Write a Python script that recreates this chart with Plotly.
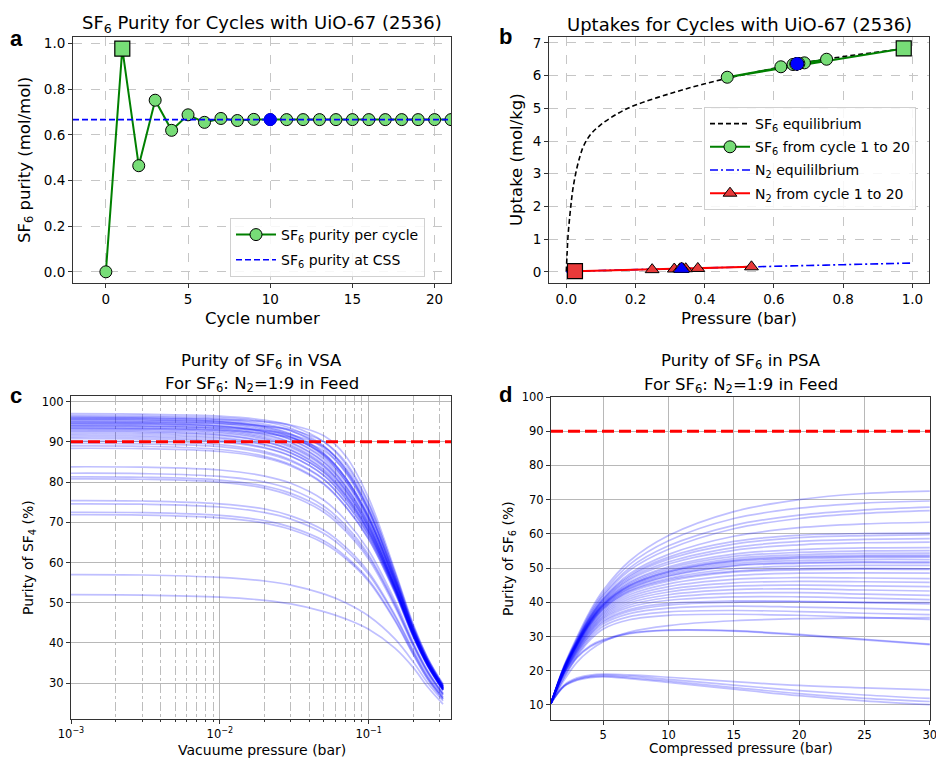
import plotly.graph_objects as go

W, H = 936, 758

# ---------------- Panel a data ----------------
cycles = list(range(22))
purity = [0.0, 0.978, 0.465, 0.752, 0.620, 0.688, 0.655, 0.672, 0.663, 0.668, 0.667,
          0.667, 0.667, 0.667, 0.667, 0.667, 0.667, 0.667, 0.667, 0.667, 0.667, 0.667]
first_cycle_index = 1
css_cycle = 10
css_purity = 0.667
a_xrange = [-2, 21]

# ---------------- Panel b data ----------------
sf6_eq_p = [0, 0.002, 0.005, 0.01, 0.015, 0.02, 0.03, 0.04, 0.05, 0.07, 0.1, 0.15, 0.2,
            0.3, 0.4, 0.5, 0.6, 0.7, 0.8, 0.9, 1.0]
sf6_eq_q = [0, 0.5, 1.1, 1.7, 2.2, 2.6, 3.15, 3.55, 3.85, 4.2, 4.5, 4.85, 5.1,
            5.45, 5.75, 6.0, 6.22, 6.42, 6.58, 6.72, 6.86]
n2_eq_p = [0, 0.1, 0.2, 0.3, 0.4, 0.5, 0.6, 0.7, 0.8, 0.9, 1.0]
n2_eq_q = [0, 0.04, 0.07, 0.095, 0.12, 0.145, 0.17, 0.195, 0.22, 0.245, 0.27]
sf6_cycle_p = [0.975, 0.465, 0.752, 0.620, 0.688, 0.655, 0.672, 0.663, 0.668, 0.667,
               0.667, 0.667, 0.667, 0.667, 0.667, 0.667, 0.667, 0.667, 0.667, 0.667]
sf6_cycle_q = [6.83, 5.95, 6.50, 6.27, 6.39, 6.34, 6.37, 6.355, 6.365, 6.36,
               6.36, 6.36, 6.36, 6.36, 6.36, 6.36, 6.36, 6.36, 6.36, 6.36]
n2_cycle_p = [0.025, 0.535, 0.248, 0.380, 0.312, 0.345, 0.328, 0.337, 0.332, 0.333,
              0.333, 0.333, 0.333, 0.333, 0.333, 0.333, 0.333, 0.333, 0.333, 0.333]
n2_cycle_q = [0.02, 0.155, 0.068, 0.105, 0.087, 0.096, 0.091, 0.093, 0.092, 0.092,
              0.092, 0.092, 0.092, 0.092, 0.092, 0.092, 0.092, 0.092, 0.092, 0.092]
css_sf6 = (0.667, 6.36)
css_n2 = (0.333, 0.092)

# ---------------- Panel c data (VSA) ----------------
vsa_p = [0.001, 0.003, 0.01, 0.02, 0.03, 0.05, 0.07, 0.1, 0.15, 0.2, 0.25, 0.316]
vsa_purity = [
    [97.0, 96.9, 96.4, 95.4, 94.0, 90.0, 84.5, 74.5, 57.5, 44.0, 36.0, 29.5],
    [96.6, 96.5, 96.0, 95.0, 93.4, 89.0, 83.0, 73.0, 56.5, 43.5, 35.5, 29.2],
    [96.3, 96.2, 95.6, 94.4, 92.8, 88.3, 82.3, 72.3, 56.0, 43.2, 35.3, 29.0],
    [96.0, 95.9, 95.2, 93.8, 92.0, 87.2, 81.0, 71.2, 55.3, 42.8, 35.0, 28.9],
    [95.7, 95.6, 95.0, 93.6, 91.8, 87.0, 81.0, 71.5, 55.8, 43.2, 35.4, 29.2],
    [95.4, 95.3, 94.7, 93.3, 91.4, 86.6, 80.5, 71.0, 55.5, 43.0, 35.2, 29.0],
    [95.1, 95.0, 94.4, 93.0, 91.2, 86.5, 80.3, 70.6, 55.0, 42.6, 34.9, 28.8],
    [94.8, 94.7, 94.0, 92.5, 90.5, 85.6, 79.3, 69.8, 54.6, 42.4, 34.8, 28.7],
    [94.5, 94.4, 93.8, 92.4, 90.6, 86.0, 80.0, 70.5, 55.2, 42.9, 35.1, 28.9],
    [94.2, 94.1, 93.4, 91.9, 89.9, 85.0, 78.8, 69.4, 54.3, 42.2, 34.6, 28.6],
    [93.9, 93.8, 93.1, 91.6, 89.7, 84.9, 78.9, 69.6, 54.6, 42.5, 34.9, 28.8],
    [93.6, 93.5, 92.8, 91.2, 89.2, 84.3, 78.2, 69.0, 54.1, 42.1, 34.6, 28.6],
    [93.3, 93.2, 92.5, 90.9, 88.9, 84.0, 78.0, 68.8, 54.0, 42.0, 34.5, 28.5],
    [93.0, 92.9, 92.2, 90.6, 88.6, 83.8, 77.8, 68.7, 54.0, 42.1, 34.6, 28.6],
    [92.7, 92.6, 91.8, 90.1, 87.9, 82.9, 76.8, 67.8, 53.4, 41.8, 34.4, 28.4],
    [92.4, 92.3, 91.6, 90.0, 88.0, 83.2, 77.3, 68.4, 53.9, 42.1, 34.6, 28.6],
    [92.0, 91.9, 91.1, 89.4, 87.3, 82.4, 76.4, 67.6, 53.4, 41.8, 34.4, 28.4],
    [91.6, 91.5, 90.8, 89.2, 87.2, 82.5, 76.7, 68.0, 53.8, 42.1, 34.6, 28.6],
    [91.2, 91.1, 90.3, 88.6, 86.5, 81.6, 75.7, 67.1, 53.1, 41.6, 34.3, 28.3],
    [90.8, 90.7, 90.0, 88.4, 86.4, 81.7, 76.0, 67.5, 53.6, 42.0, 34.6, 28.6],
    [90.2, 90.1, 89.3, 87.6, 85.5, 80.7, 74.9, 66.5, 52.9, 41.5, 34.2, 28.3],
    [89.6, 89.5, 88.8, 87.2, 85.2, 80.6, 75.0, 66.8, 53.2, 41.8, 34.4, 28.4],
    [89.0, 88.9, 88.1, 86.4, 84.3, 79.6, 73.9, 65.8, 52.5, 41.3, 34.1, 28.2],
    [88.4, 88.3, 87.6, 86.0, 84.0, 79.4, 73.9, 65.9, 52.7, 41.5, 34.2, 28.3],
    [96.0, 95.9, 95.6, 95.0, 94.2, 91.5, 86.5, 76.0, 58.0, 44.5, 36.2, 29.8],
    [95.0, 94.9, 94.6, 93.9, 93.0, 90.0, 85.0, 74.8, 57.3, 44.0, 35.9, 29.5],
    [94.0, 93.9, 93.5, 92.8, 91.8, 88.7, 83.6, 73.6, 56.7, 43.6, 35.6, 29.3],
    [93.4, 93.3, 92.9, 92.1, 91.0, 87.8, 82.6, 72.8, 56.2, 43.3, 35.4, 29.2],
    [95.6, 95.5, 95.0, 94.0, 92.7, 88.8, 83.2, 73.2, 56.4, 43.4, 35.5, 29.2],
    [94.6, 94.5, 93.9, 92.7, 91.1, 86.9, 81.1, 71.3, 55.3, 42.8, 35.0, 28.9],
    [83.8, 83.7, 83.0, 81.5, 79.7, 75.5, 70.5, 63.0, 50.5, 40.0, 33.0, 27.5],
    [82.2, 82.1, 81.4, 80.0, 78.2, 74.0, 69.2, 61.9, 49.8, 39.6, 32.8, 27.3],
    [81.3, 81.2, 80.5, 79.0, 77.2, 73.2, 68.5, 61.4, 49.5, 39.4, 32.6, 27.2],
    [80.8, 80.7, 80.0, 78.5, 76.6, 72.5, 67.8, 60.8, 49.0, 39.1, 32.4, 27.0],
    [75.4, 75.3, 74.6, 73.3, 71.6, 68.0, 63.8, 57.6, 47.0, 38.0, 31.6, 26.5],
    [74.6, 74.5, 73.8, 72.4, 70.8, 67.2, 63.1, 57.0, 46.6, 37.7, 31.4, 26.4],
    [72.5, 72.4, 71.7, 70.4, 68.8, 65.4, 61.5, 55.7, 45.8, 37.2, 31.0, 26.1],
    [71.9, 71.8, 71.1, 69.8, 68.2, 64.8, 61.0, 55.3, 45.5, 37.0, 30.9, 26.0],
    [57.0, 56.9, 56.3, 55.4, 54.4, 52.2, 50.0, 46.7, 41.0, 35.2, 30.0, 25.6],
    [52.0, 51.9, 51.4, 50.6, 49.7, 47.8, 46.0, 43.4, 38.7, 33.8, 29.0, 24.8],
]
vsa_major_ticks = [1e-3, 1e-2, 1e-1]
vsa_major_text = ["10<sup>\u22123</sup>", "10<sup>\u22122</sup>", "10<sup>\u22121</sup>"]
vsa_minor_ticks = [2e-3, 3e-3, 4e-3, 5e-3, 6e-3, 7e-3, 8e-3, 9e-3,
                   2e-2, 3e-2, 4e-2, 5e-2, 6e-2, 7e-2, 8e-2, 9e-2, 2e-1, 3e-1]

# ---------------- Panel d data (PSA) ----------------
psa_p = [1, 2, 3, 4, 5, 7, 10, 15, 20, 25, 30]
psa_purity = [
    [10.5, 21.5, 30.0, 37.5, 43.5, 52.0, 59.5, 66.5, 70.0, 71.8, 72.5],
    [10.5, 21.3, 29.5, 37.0, 42.8, 51.0, 58.0, 64.5, 67.5, 69.0, 69.6],
    [10.5, 21.2, 29.2, 36.5, 42.2, 50.0, 56.5, 62.5, 65.5, 67.0, 67.8],
    [10.5, 21.0, 29.0, 36.2, 41.8, 49.3, 55.5, 61.5, 64.5, 66.0, 66.8],
    [10.5, 21.0, 28.8, 35.8, 41.2, 48.3, 54.0, 59.3, 61.8, 62.9, 63.4],
    [10.5, 20.9, 28.7, 35.7, 41.0, 47.8, 53.2, 57.8, 59.6, 60.1, 60.3],
    [10.5, 20.9, 28.6, 35.5, 40.8, 47.4, 52.6, 57.0, 58.9, 59.5, 59.8],
    [10.5, 20.8, 28.5, 35.3, 40.5, 46.9, 51.8, 56.0, 57.8, 58.4, 58.6],
    [10.5, 20.7, 28.4, 35.1, 40.2, 46.5, 51.2, 55.2, 56.8, 57.4, 57.6],
    [10.5, 20.7, 28.3, 34.9, 39.9, 45.9, 50.4, 54.1, 55.4, 55.9, 56.0],
    [10.5, 20.6, 28.2, 34.8, 39.7, 45.6, 49.9, 53.4, 54.6, 55.0, 55.1],
    [10.5, 20.6, 28.1, 34.6, 39.5, 45.2, 49.4, 52.8, 53.9, 54.3, 54.4],
    [10.5, 20.5, 28.0, 34.5, 39.3, 44.9, 49.0, 52.3, 53.4, 53.7, 53.8],
    [10.5, 20.5, 27.9, 34.3, 39.1, 44.6, 48.6, 51.8, 52.8, 53.1, 53.2],
    [10.5, 20.4, 27.8, 34.2, 38.9, 44.3, 48.2, 51.3, 52.2, 52.5, 52.5],
    [10.5, 20.4, 27.7, 34.0, 38.7, 44.0, 47.8, 50.8, 51.6, 51.8, 51.8],
    [10.5, 20.3, 27.6, 33.9, 38.5, 43.8, 47.6, 50.6, 51.4, 51.6, 51.5],
    [10.5, 20.3, 27.5, 33.7, 38.3, 43.4, 47.0, 49.8, 50.6, 50.8, 50.8],
    [10.5, 20.2, 27.3, 33.4, 37.9, 42.8, 46.2, 48.8, 49.5, 49.7, 49.6],
    [10.5, 20.1, 27.1, 33.1, 37.5, 42.2, 45.4, 47.8, 48.5, 48.6, 48.5],
    [10.5, 20.0, 26.9, 32.8, 37.1, 41.6, 44.6, 46.7, 47.2, 47.1, 46.9],
    [10.5, 19.9, 26.7, 32.5, 36.7, 41.0, 43.8, 45.7, 46.1, 46.0, 45.8],
    [10.5, 19.8, 26.5, 32.2, 36.3, 40.4, 43.0, 44.7, 45.0, 44.8, 44.6],
    [10.5, 19.7, 26.3, 31.9, 35.9, 39.8, 42.2, 43.7, 43.9, 43.6, 43.3],
    [10.5, 19.6, 26.1, 31.6, 35.5, 39.2, 41.4, 42.7, 42.8, 42.4, 42.0],
    [10.5, 19.5, 25.9, 31.3, 35.1, 38.6, 40.6, 41.6, 41.6, 41.2, 40.8],
    [10.5, 19.4, 25.6, 30.9, 34.6, 37.9, 39.7, 40.4, 40.3, 39.9, 39.5],
    [10.5, 19.3, 25.4, 30.6, 34.2, 37.4, 39.2, 40.0, 40.1, 40.0, 39.9],
    [10.5, 19.2, 25.1, 30.2, 33.7, 36.7, 38.3, 38.9, 38.6, 38.2, 37.8],
    [10.5, 19.0, 24.7, 29.6, 33.0, 35.8, 37.2, 37.6, 37.3, 36.8, 36.4],
    [10.5, 18.8, 24.3, 29.0, 32.2, 34.9, 36.2, 36.5, 36.2, 35.6, 35.0],
    [10.5, 17.2, 22.5, 26.0, 28.5, 31.3, 33.2, 34.6, 35.2, 35.4, 35.5],
    [10.5, 18.0, 23.8, 27.0, 28.8, 30.8, 31.8, 31.6, 30.4, 29.0, 27.6],
    [10.5, 18.1, 24.0, 27.3, 29.1, 31.0, 31.9, 31.7, 30.6, 29.2, 27.8],
    [10.5, 15.8, 17.9, 18.7, 19.0, 18.8, 18.1, 16.8, 15.7, 15.0, 14.4],
    [10.5, 15.6, 17.6, 18.4, 18.7, 18.4, 17.5, 15.8, 14.2, 12.9, 11.9],
    [10.5, 15.5, 17.4, 18.2, 18.4, 18.0, 17.0, 15.1, 13.3, 11.9, 11.0],
    [10.5, 15.4, 17.2, 18.0, 18.2, 17.7, 16.6, 14.6, 12.7, 11.2, 10.1],
    [10.5, 20.5, 27.9, 34.4, 39.2, 44.8, 48.9, 52.1, 53.1, 53.4, 53.4],
    [10.5, 20.2, 27.4, 33.6, 38.1, 43.2, 46.6, 49.1, 49.8, 49.9, 49.8],
]
target_purity = 90

# ---------------- figure ----------------
FONT = "DejaVu Sans"
GREEN = "#008000"
LGREEN = "#77dd77"
RED_MK = "#e83a3a"
CURVE = "rgba(0,0,255,0.25)"


def px(x):
    return x / W


def py(y):
    return 1 - y / H


fig = go.Figure()

# Panel a
fig.add_trace(go.Scatter(
    x=cycles, y=purity, mode="lines+markers", xaxis="x", yaxis="y",
    line=dict(color=GREEN, width=2),
    marker=dict(symbol="circle", size=12, color=LGREEN, line=dict(color="black", width=1)),
    name="SF<sub>6</sub> purity per cycle", legend="legend", legendgroup="a1"))
fig.add_trace(go.Scatter(
    x=[cycles[first_cycle_index]], y=[purity[first_cycle_index]], mode="markers",
    xaxis="x", yaxis="y",
    marker=dict(symbol="square", size=15, color=LGREEN, line=dict(color="black", width=1.2)),
    showlegend=False))
fig.add_trace(go.Scatter(
    x=a_xrange, y=[css_purity, css_purity], mode="lines", xaxis="x", yaxis="y",
    line=dict(color="#0000ff", width=1.6, dash="6px,3px"),
    name="SF<sub>6</sub> purity at CSS", legend="legend", legendgroup="a2"))
fig.add_trace(go.Scatter(
    x=[css_cycle], y=[css_purity], mode="markers", xaxis="x", yaxis="y",
    marker=dict(size=12, color="#0000ff", line=dict(color="#0000ff", width=1)),
    showlegend=False))

# Panel b
fig.add_trace(go.Scatter(
    x=sf6_eq_p, y=sf6_eq_q, mode="lines", xaxis="x2", yaxis="y2",
    line=dict(color="black", width=1.6, dash="5px,3px", shape="spline"),
    name="SF<sub>6</sub> equilibrium", legend="legend2", legendgroup="b1", legendrank=1))
fig.add_trace(go.Scatter(
    x=n2_eq_p, y=n2_eq_q, mode="lines", xaxis="x2", yaxis="y2",
    line=dict(color="#0000ff", width=1.6, dash="8px,3px,2px,3px", shape="spline"),
    name="N<sub>2</sub> equililbrium", legend="legend2", legendgroup="b3", legendrank=3))
fig.add_trace(go.Scatter(
    x=sf6_cycle_p, y=sf6_cycle_q, mode="lines+markers", xaxis="x2", yaxis="y2",
    line=dict(color=GREEN, width=2),
    marker=dict(symbol="circle", size=12, color=LGREEN, line=dict(color="black", width=1)),
    name="SF<sub>6</sub> from cycle 1 to 20", legend="legend2", legendgroup="b2", legendrank=2))
fig.add_trace(go.Scatter(
    x=[sf6_cycle_p[0]], y=[sf6_cycle_q[0]], mode="markers", xaxis="x2", yaxis="y2",
    marker=dict(symbol="square", size=15, color=LGREEN, line=dict(color="black", width=1.2)),
    showlegend=False))
fig.add_trace(go.Scatter(
    x=n2_cycle_p, y=n2_cycle_q, mode="lines+markers", xaxis="x2", yaxis="y2",
    line=dict(color="#ff0000", width=2),
    marker=dict(symbol="triangle-up", size=12, color=RED_MK, line=dict(color="black", width=1)),
    name="N<sub>2</sub> from cycle 1 to 20", legend="legend2", legendgroup="b4", legendrank=4))
fig.add_trace(go.Scatter(
    x=[n2_cycle_p[0]], y=[n2_cycle_q[0]], mode="markers", xaxis="x2", yaxis="y2",
    marker=dict(symbol="square", size=15, color=RED_MK, line=dict(color="black", width=1.2)),
    showlegend=False))
fig.add_trace(go.Scatter(
    x=[css_sf6[0]], y=[css_sf6[1]], mode="markers", xaxis="x2", yaxis="y2",
    marker=dict(size=12, color="#0000ff", line=dict(color="#0000ff", width=1)),
    showlegend=False))
fig.add_trace(go.Scatter(
    x=[css_n2[0]], y=[css_n2[1]], mode="markers", xaxis="x2", yaxis="y2",
    marker=dict(size=12, symbol="triangle-up", color="#0000ff", line=dict(color="#0000ff", width=1)),
    showlegend=False))

# Panel c
for row in vsa_purity:
    fig.add_trace(go.Scatter(
        x=vsa_p, y=row, mode="lines", xaxis="x3", yaxis="y3",
        line=dict(color=CURVE, width=1.7, shape="spline"),
        showlegend=False, hoverinfo="skip"))

# Panel d
for row in psa_purity:
    fig.add_trace(go.Scatter(
        x=psa_p, y=row, mode="lines", xaxis="x4", yaxis="y4",
        line=dict(color=CURVE, width=1.7, shape="spline"),
        showlegend=False, hoverinfo="skip"))

# ---- axes ----
ab_axis = dict(showline=True, mirror=True, linecolor="#333333", linewidth=1,
               ticks="outside", ticklen=4, tickcolor="#333333", automargin=False,
               ticklabeloverflow="allow",
               showgrid=True, gridcolor="#c6c6c6", griddash="dash", gridwidth=0.8,
               zeroline=False, tickfont=dict(family=FONT, size=13.5, color="black"))
cd_axis = dict(showline=True, mirror=True, linecolor="#333333", linewidth=1,
               ticks="outside", ticklen=4, tickcolor="#333333", automargin=False,
               ticklabeloverflow="allow",
               showgrid=True, gridcolor="#b8b8b8", gridwidth=1.4,
               zeroline=False, tickfont=dict(family=FONT, size=11.5, color="black"))

fig.update_layout(
    xaxis=dict(ab_axis, domain=[px(73), px(451)], range=a_xrange,
               tickvals=[0, 5, 10, 15, 20], anchor="y"),
    yaxis=dict(ab_axis, domain=[py(283), py(37)], range=[-0.049, 1.029],
               tickvals=[0, 0.2, 0.4, 0.6, 0.8, 1.0], tickformat=".1f", anchor="x"),
    xaxis2=dict(ab_axis, domain=[px(549), px(929)], range=[-0.05, 1.048],
                tickvals=[0, 0.2, 0.4, 0.6, 0.8, 1.0], tickformat=".1f", anchor="y2"),
    yaxis2=dict(ab_axis, domain=[py(283), py(37)], range=[-0.34, 7.18],
                tickvals=[0, 1, 2, 3, 4, 5, 6, 7], anchor="x2"),
    xaxis3=dict(cd_axis, domain=[px(71), px(451)], type="log", range=[-3, -0.447],
                tickvals=vsa_major_ticks, ticktext=vsa_major_text, anchor="y3",
                minor=dict(tickvals=vsa_minor_ticks, showgrid=True, gridcolor="#bdbdbd",
                           griddash="dashdot", gridwidth=1, ticks="outside", ticklen=2,
                           tickcolor="#333333")),
    yaxis3=dict(cd_axis, domain=[py(719), py(396)], range=[21.1, 101.4],
                tickvals=[30, 40, 50, 60, 70, 80, 90, 100], anchor="x3"),
    xaxis4=dict(cd_axis, domain=[px(551), px(930)], range=[1, 30.02],
                tickvals=[5, 10, 15, 20, 25, 30], anchor="y4"),
    yaxis4=dict(cd_axis, domain=[py(720), py(397)], range=[5.6, 100],
                tickvals=[10, 20, 30, 40, 50, 60, 70, 80, 90, 100], anchor="x4"),
)

# target purity reference lines
for xr, yr in (("x3 domain", "y3"), ("x4 domain", "y4")):
    fig.add_shape(type="line", xref=xr, yref=yr, x0=0, x1=1, y0=target_purity, y1=target_purity,
                  line=dict(color="#ff0000", width=3, dash="12px,5px"), layer="above")

# ---- legends ----
fig.update_layout(
    legend=dict(x=px(230), y=py(218), xanchor="left", yanchor="top",
                bgcolor="rgba(255,255,255,0.85)", bordercolor="#d0d0d0", borderwidth=1,
                font=dict(family=FONT, size=14, color="black"),
                traceorder="grouped", tracegroupgap=4, itemwidth=40),
    legend2=dict(x=px(704), y=py(107), xanchor="left", yanchor="top",
                 bgcolor="rgba(255,255,255,0.85)", bordercolor="#d0d0d0", borderwidth=1,
                 font=dict(family=FONT, size=14, color="black"),
                 traceorder="grouped", tracegroupgap=2, itemwidth=40),
)

# ---- text annotations ----
ann = []


def text(x, y, s, size, angle=0, bold=False, family=FONT):
    ann.append(dict(x=px(x), y=py(y), xref="paper", yref="paper", text=s, showarrow=False,
                    xanchor="center", yanchor="middle", textangle=angle,
                    font=dict(family=family, size=size, color="black",
                              weight="bold" if bold else "normal")))


text(262, 24, "SF<sub>6</sub> Purity for Cycles with UiO-67 (2536)", 18)
text(739, 24, "Uptakes for Cycles with UiO-67 (2536)", 18)
text(262, 318, "Cycle number", 16.5)
text(739, 318, "Pressure (bar)", 16.5)
text(26, 160, "SF<sub>6</sub> purity (mol/mol)", 16.5, angle=-90)
text(517, 160, "Uptake (mol/kg)", 16.5, angle=-90)

text(261, 361, "Purity of SF<sub>6</sub> in VSA", 16.5)
text(262, 384, "For SF<sub>6</sub>: N<sub>2</sub>=1:9 in Feed", 16.5)
text(741, 362, "Purity of SF<sub>6</sub> in PSA", 16.5)
text(741, 385, "For SF<sub>6</sub>: N<sub>2</sub>=1:9 in Feed", 16.5)
text(262, 750, "Vacuume pressure (bar)", 14)
text(741, 748, "Compressed pressure (bar)", 13.5)
text(29, 558, "Purity of SF<sub>4</sub> (%)", 14, angle=-90)
text(509, 558, "Purity of SF<sub>6</sub> (%)", 14, angle=-90)

text(16, 38, "a", 22, bold=True, family="Liberation Sans")
text(506, 36, "b", 22, bold=True, family="Liberation Sans")
text(16, 395, "c", 22, bold=True, family="Liberation Sans")
text(505, 394, "d", 22, bold=True, family="Liberation Sans")

fig.update_layout(
    annotations=ann,
    width=W, height=H,
    margin=dict(l=0, r=0, t=0, b=0, autoexpand=False),
    paper_bgcolor="white", plot_bgcolor="white",
    font=dict(family=FONT, color="black"),
)

fig.write_html("out.html", config={"displayModeBar": False},
               post_script="document.body.style.margin='0';document.body.style.overflow='hidden';")
